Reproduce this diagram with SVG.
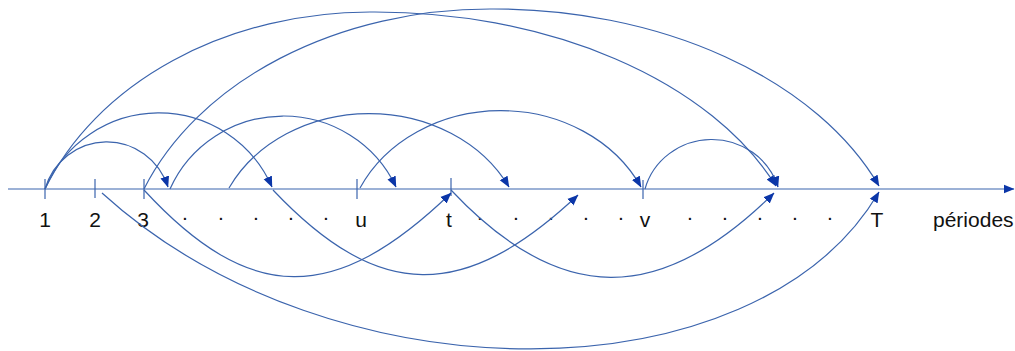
<svg xmlns="http://www.w3.org/2000/svg" width="1015" height="351" viewBox="0 0 1015 351">
<style>
.ln{fill:none;stroke:#3B64AD;stroke-width:1.2}
.tk{stroke:#3B64AD;stroke-width:1.2}
.lb{font-family:"Liberation Sans",Arial,sans-serif;font-size:21px;fill:#111}
</style>
<defs>
<marker id="ah" markerUnits="userSpaceOnUse" markerWidth="11" markerHeight="10" viewBox="0 0 11 10" refX="10.5" refY="5" orient="auto">
<path d="M0,0.5 L11,5 L0,9.5 z" fill="#0B36A8"/>
</marker>
</defs>
<rect width="1015" height="351" fill="#fff"/>
<g id="axis">
<line class="tk" x1="8" y1="189" x2="1014" y2="189" marker-end="url(#ah)"/>
<line class="tk" x1="45" y1="179" x2="45" y2="199"/>
<line class="tk" x1="95" y1="179" x2="95" y2="198"/>
<line class="tk" x1="144" y1="179" x2="144" y2="199"/>
<line class="tk" x1="357" y1="179" x2="357" y2="199"/>
<line class="tk" x1="451" y1="178" x2="451" y2="196"/>
<line class="tk" x1="643" y1="180" x2="643" y2="199"/>
</g>
<g id="labels">
<text class="lb" x="45" y="227" text-anchor="middle">1</text>
<text class="lb" x="95" y="227" text-anchor="middle">2</text>
<text class="lb" x="143" y="227" text-anchor="middle">3</text>
<text class="lb" x="185 221 256 291 326" y="220" text-anchor="middle">.....</text>
<text class="lb" x="361" y="227" text-anchor="middle">u</text>
<text class="lb" x="449" y="227" text-anchor="middle">t</text>
<text class="lb" x="480 516 551 586 621" y="220" text-anchor="middle">.....</text>
<text class="lb" x="645" y="227" text-anchor="middle">v</text>
<text class="lb" x="690 725 760 795 830" y="220" text-anchor="middle">.....</text>
<text class="lb" x="877" y="227" text-anchor="middle">T</text>
<text class="lb" x="933" y="227">périodes</text>
</g>
<g id="connectors">
<path class="ln" marker-end="url(#ah)" d="M45,189 A64.5,66 0 0 1 168,187"/>
<path class="ln" marker-end="url(#ah)" d="M45,189 A123.8,125 0 0 1 272,187"/>
<path class="ln" marker-end="url(#ah)" d="M45,189 A348.5,277 0 0 1 370,12 A432.1,277 0 0 1 776,186"/>
<path class="ln" marker-end="url(#ah)" d="M144,189 A370.4,280 0 0 1 490,9 A414.3,280 0 0 1 879,186"/>
<path class="ln" marker-end="url(#ah)" d="M170,189 A123.9,122 0 0 1 396,187"/>
<path class="ln" marker-end="url(#ah)" d="M229,188 A156.6,134 0 0 1 509,187"/>
<path class="ln" marker-end="url(#ah)" d="M360,188 A156,136 0 0 1 641,187"/>
<path class="ln" marker-end="url(#ah)" d="M645,189 A69.2,67 0 0 1 778,187"/>
<path class="ln" marker-end="url(#ah)" d="M102,193 C332,402 757,400 879,192"/>
<path class="ln" marker-end="url(#ah)" d="M144,190 C250,305 335,305 451,193"/>
<path class="ln" marker-end="url(#ah)" d="M273,190 C379,302 464,302 578,195"/>
<path class="ln" marker-end="url(#ah)" d="M451,190 C560,306 660,306 774,193"/>
</g>
</svg>
